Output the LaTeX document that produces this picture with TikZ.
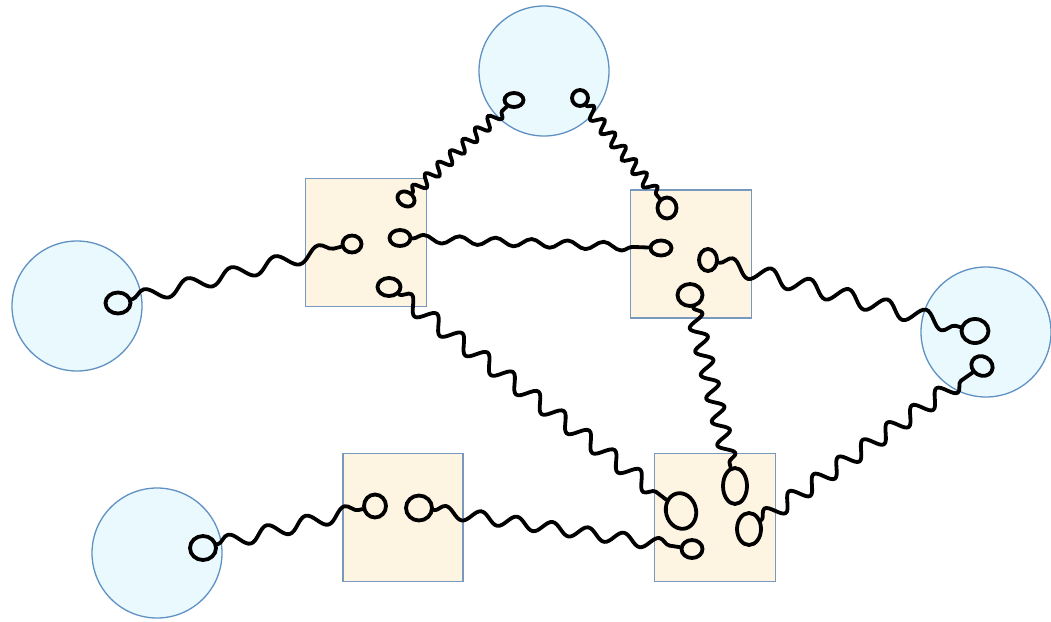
\documentclass[tikz,border=0pt]{standalone}
\usetikzlibrary{shapes.geometric,decorations.pathmorphing}
\definecolor{circfill}{RGB}{234,249,253}
\definecolor{circline}{RGB}{95,145,195}
\definecolor{boxfill}{RGB}{253,244,226}
\definecolor{boxline}{RGB}{120,152,190}
\tikzset{
 ball/.style={circle,draw=circline,fill=circfill,line width=1.3pt,minimum size=130pt,inner sep=0pt},
 cell/.style={rectangle,draw=boxline,fill=boxfill,line width=1.6pt,minimum width=121pt,minimum height=128pt,inner sep=0pt},
 loopy/.style={ellipse,draw=black,line width=3.8pt,inner sep=0pt},
 wave/.style={draw=black,line width=3.8pt,line cap=round,line join=round,decorate,decoration={snake}},
}
\begin{document}
\begin{tikzpicture}[x=1pt,y=-1pt]
\useasboundingbox (0,0) rectangle (1051,621);
% circles
\node[ball] (C1) at (77,306) {};
\node[ball] (C2) at (544,71) {};
\node[ball] (C3) at (986,332) {};
\node[ball] (C4) at (157,553) {};
% squares
\node[cell] (S1) at (366,242.5) {};
\node[cell] (S2) at (691,254) {};
\node[cell] (S3) at (715,517.5) {};
\node[cell,minimum width=120pt] (S4) at (403,517.5) {};
% loops
\node[loopy,minimum width=25pt,minimum height=21pt] (L1) at (118,303) {};
\node[loopy,minimum width=19pt,minimum height=17pt] (a1) at (352,244) {};
\node[loopy,minimum width=21pt,minimum height=16pt] (a2) at (400,238) {};
\node[loopy,minimum width=18pt,minimum height=14pt,rotate=-30] (a3) at (406,199) {};
\node[loopy,minimum width=23pt,minimum height=18pt] (a4) at (389,287) {};
\node[loopy,minimum width=19pt,minimum height=14pt] (t1) at (514,100) {};
\node[loopy,minimum width=16pt,minimum height=16pt] (t2) at (580,98) {};
\node[loopy,minimum width=19pt,minimum height=21pt] (b1) at (667,208) {};
\node[loopy,minimum width=21pt,minimum height=15pt] (b2) at (661,248) {};
\node[loopy,minimum width=18pt,minimum height=22pt] (b3) at (708,260) {};
\node[loopy,minimum width=25pt,minimum height=22pt] (b4) at (690,295) {};
\node[loopy,minimum width=27pt,minimum height=24pt] (r1) at (975,331) {};
\node[loopy,minimum width=22pt,minimum height=19pt,rotate=-30] (r2) at (982,366) {};
\node[loopy,minimum width=24pt,minimum height=36pt] (c1) at (735,486) {};
\node[loopy,minimum width=30pt,minimum height=36pt,rotate=15] (c2) at (681,511) {};
\node[loopy,minimum width=24pt,minimum height=32pt] (c3) at (749,529) {};
\node[loopy,minimum width=21pt,minimum height=18pt] (c4) at (692,549) {};
\node[loopy,minimum width=22pt,minimum height=23pt] (d1) at (375,506) {};
\node[loopy,minimum width=26pt,minimum height=25pt] (d2) at (419,508) {};
\node[loopy,minimum width=26pt,minimum height=24pt] (e1) at (203,548) {};
% wavy connectors
\draw[wave,decoration={amplitude=7pt,segment length=45pt}] (L1) -- (a1);
\draw[wave,decoration={amplitude=4pt,segment length=36pt}] (a2) -- (b2);
\draw[wave,decoration={amplitude=6pt,segment length=17pt}] (a3) -- (t1);
\draw[wave,decoration={amplitude=6pt,segment length=17pt}] (t2) -- (b1);
\draw[wave,decoration={amplitude=8pt,segment length=32pt}] (a4) -- (c2);
\draw[wave,decoration={amplitude=8pt,segment length=40pt}] (b3) -- (r1);
\draw[wave,decoration={amplitude=8pt,segment length=24pt}] (b4) -- (c1);
\draw[wave,decoration={amplitude=8pt,segment length=30pt}] (c3) -- (r2);
\draw[wave,decoration={amplitude=7pt,segment length=40pt}] (e1) -- (d1);
\draw[wave,decoration={amplitude=6pt,segment length=36pt}] (d2) -- (c4);
\end{tikzpicture}
\end{document}
